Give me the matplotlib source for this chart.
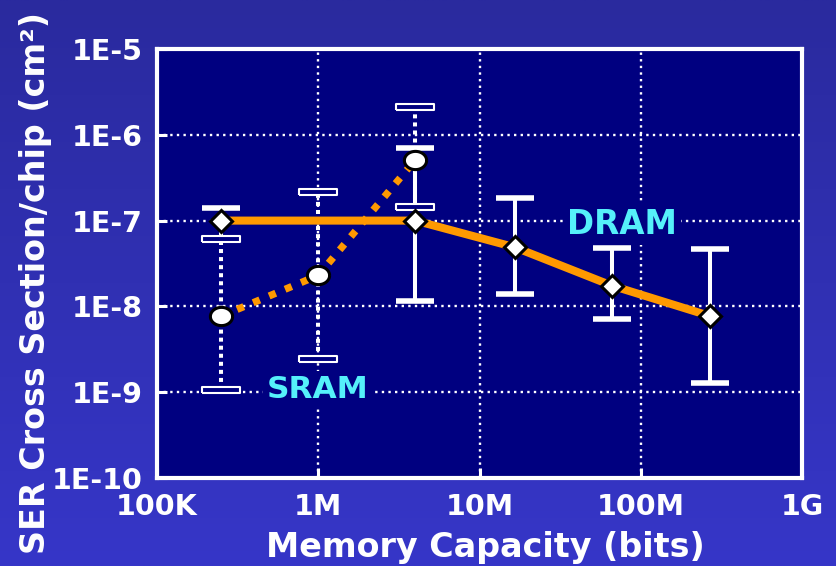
import numpy as np
import matplotlib
matplotlib.use("Agg")
import matplotlib.pyplot as plt

# ---------------- data ----------------
x_ticks = [1e5, 1e6, 1e7, 1e8, 1e9]
x_ticklabels = ["100K", "1M", "10M", "100M", "1G"]
y_ticks = [1e-10, 1e-9, 1e-8, 1e-7, 1e-6, 1e-5]
y_ticklabels = ["1E-10", "1E-9", "1E-8", "1E-7", "1E-6", "1E-5"]

sram_bits = [2.5e5, 1.0e6, 4.0e6]
sram_val = [7.7e-9, 2.3e-8, 5.1e-7]
sram_lo = [1.06e-9, 2.45e-9, 1.45e-7]
sram_hi = [6.1e-8, 2.15e-7, 2.1e-6]

dram_bits = [2.5e5, 4.0e6, 1.65e7, 6.6e7, 2.7e8]
dram_val = [1.0e-7, 1.0e-7, 4.9e-8, 1.75e-8, 7.7e-9]
dram_lo = [6.1e-8, 1.16e-8, 1.4e-8, 7.1e-9, 1.28e-9]
dram_hi = [1.4e-7, 7.0e-7, 1.83e-7, 4.8e-8, 4.7e-8]

# ---------------- style ----------------
W, H = 836, 566
fig = plt.figure(figsize=(W / 100, H / 100), dpi=100)
FONT = "DejaVu Sans"
NAVY = "#000080"
ORANGE = "#FF9900"
CYAN = "#55F0FA"

# background gradient
bg = fig.add_axes([0, 0, 1, 1], zorder=-10)
top = np.array([42, 42, 158]) / 255
bot = np.array([54, 54, 200]) / 255
t = np.linspace(0, 1, 256)[:, None]
grad = top[None, :] * (1 - t) + bot[None, :] * t
bg.imshow(grad[:, None, :].repeat(2, axis=1), aspect="auto", extent=[0, 1, 0, 1])
bg.axis("off")

ax = fig.add_axes([157 / W, 1 - 478 / H, (802 - 157) / W, (478 - 49) / H])
ax.set_facecolor(NAVY)
ax.set_xscale("log")
ax.set_yscale("log")
ax.set_xlim(1e5, 1e9)
ax.set_ylim(1e-10, 1e-5)

for s in ax.spines.values():
    s.set_color("white")
    s.set_linewidth(3)

ax.set_xticks(x_ticks)
ax.set_xticklabels(x_ticklabels)
ax.set_yticks(y_ticks)
ax.set_yticklabels(y_ticklabels)
ax.minorticks_off()
ax.tick_params(direction="in", length=7, width=2.2, color="white",
               labelcolor="white", labelsize=20.5, top=False, right=False)
ax.tick_params(axis="y", pad=10)
ax.tick_params(axis="x", pad=11)
for lab in ax.get_xticklabels() + ax.get_yticklabels():
    lab.set_fontweight("bold")
    lab.set_family(FONT)

ax.set_axisbelow(True)
ax.grid(True, which="major", color="white", linewidth=1.7,
        linestyle=(0, (1, 1.8)))

# labels
fig.text(485 / W, 1 - 547 / H, "Memory Capacity (bits)", color="white",
         fontsize=24, fontweight="bold", family=FONT, ha="center", va="center")
fig.text(36 / W, 1 - 283 / H, "SER Cross Section/chip (cm²)", color="white",
         fontsize=24, fontweight="bold", family=FONT, ha="center", va="center",
         rotation=90)

# series labels
box = dict(facecolor=NAVY, edgecolor="none", pad=3)
ax.text((622 - 157) / 645, (478 - 224) / 429, "DRAM", color=CYAN, fontsize=23.5,
        fontweight="bold", family=FONT, ha="center", va="center", bbox=box,
        zorder=3, transform=ax.transAxes)
ax.text((318 - 157) / 645, (478 - 390) / 429, "SRAM", color=CYAN, fontsize=22.5,
        fontweight="bold", family=FONT, ha="center", va="center", bbox=box,
        zorder=3, transform=ax.transAxes)

# SRAM dotted error bars
ax.vlines(sram_bits, sram_lo, sram_hi, colors="white", linewidth=2.9,
          linestyles=(0, (1, 1)), zorder=4)
# DRAM solid error bars
ax.errorbar(dram_bits, dram_val,
            yerr=[np.array(dram_val) - np.array(dram_lo),
                  np.array(dram_hi) - np.array(dram_val)],
            fmt="none", ecolor="white", elinewidth=2.9, capsize=13.5,
            capthick=4, zorder=5)
# SRAM hollow caps
rect = [(-1, -0.16), (1, -0.16), (1, 0.16), (-1, 0.16), (-1, -0.16)]
for arr in (sram_lo, sram_hi):
    ax.plot(sram_bits, arr, ls="none", marker=rect, markersize=27,
            markerfacecolor=NAVY, markeredgecolor="white",
            markeredgewidth=1.5, zorder=6)

# lines
ax.plot(sram_bits, sram_val, color=ORANGE, linewidth=5.2,
        linestyle=(0, (1, 1.4)), dash_capstyle="butt", zorder=7)
ax.plot(dram_bits, dram_val, color=ORANGE, linewidth=5.8, zorder=7,
        solid_capstyle="butt")

# markers
theta = np.linspace(0, 2 * np.pi, 60)
ellipse = list(zip(np.cos(theta), 0.82 * np.sin(theta)))
ax.plot(sram_bits, sram_val, ls="none", marker=ellipse, markersize=16,
        markerfacecolor="white", markeredgecolor="black",
        markeredgewidth=2.2, zorder=8)
ax.plot(dram_bits, dram_val, ls="none", marker="D", markersize=11.5,
        markerfacecolor="white", markeredgecolor="black",
        markeredgewidth=2.2, zorder=8)

fig.savefig("out.png", dpi=100)
